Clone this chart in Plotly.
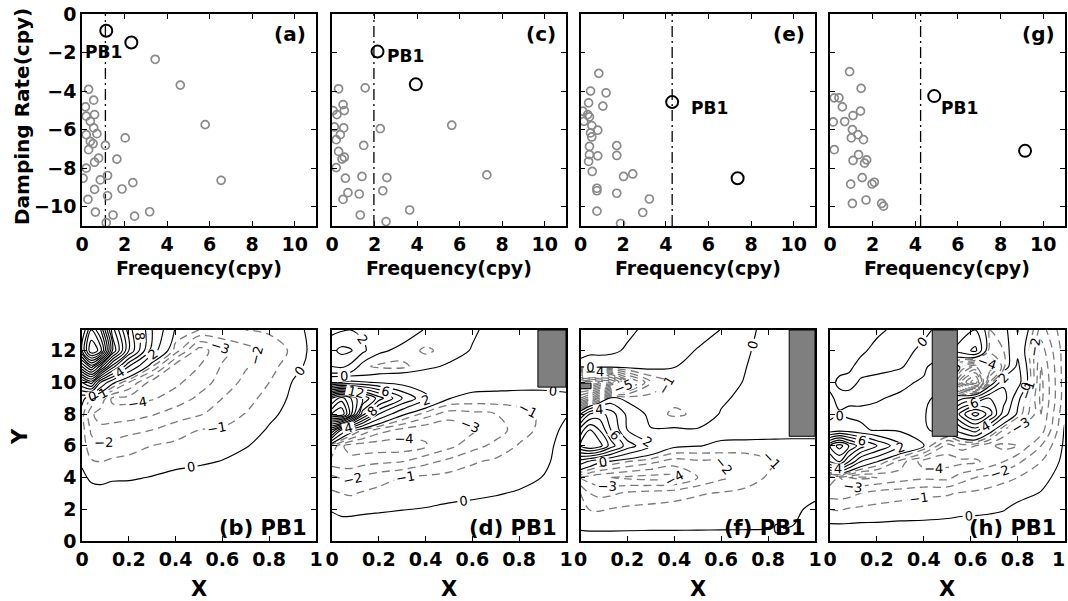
import plotly.graph_objects as go

W, H = 1068, 601

# ---------------- Top row: eigen-spectra (frequency vs damping rate) ----------------
freq_a = [3.44, 4.62, 5.79, 6.54, 2.03, 1.64, 1.10, 0.31, 0.55, 0.16, 0.59, 0.20, 0.39, 0.55, 0.70,
          0.20, 0.39, 0.52, 0.31, 0.78, 0.59, 0.20, 0.05, 0.86, 1.20, 0.59, 0.28, 1.20, 1.88, 2.39,
          0.63, 1.46, 1.14, 2.47, 3.18]
damp_a = [-2.35, -3.69, -5.74, -8.63, -6.43, -7.53, -6.82, -3.91, -4.47, -4.82, -5.22, -5.30, -5.57,
          -5.91, -6.21, -6.26, -6.61, -6.73, -7.04, -7.48, -7.69, -8.00, -8.52, -8.61, -8.38, -9.10,
          -9.62, -9.43, -9.08, -8.75, -10.28, -10.43, -10.83, -10.49, -10.26]
pb_freq_a = [1.14, 2.32]
pb_damp_a = [-0.87, -1.48]

freq_c = [0.31, 1.56, 0.52, 0.05, 0.23, 0.58, 5.63, 0.11, 0.55, 2.27, 0.39, 0.20, 1.49, 0.31, 0.58,
          0.47, 0.20, 7.28, 0.63, 1.41, 2.58, 2.39, 0.75, 1.28, 0.52, 3.65, 1.33, 2.54]
damp_c = [-3.88, -3.83, -4.70, -5.01, -5.22, -5.01, -5.77, -5.86, -5.91, -5.95, -6.26, -6.52, -6.82,
          -7.13, -7.43, -7.53, -7.97, -8.35, -8.52, -8.43, -8.49, -9.17, -9.27, -9.34, -9.62, -10.17,
          -10.43, -10.77]
pb_freq_c = [2.14, 3.94]
pb_damp_c = [-1.95, -3.65]

freq_e = [0.86, 0.47, 1.20, 0.38, 1.05, 0.11, 0.34, 0.42, 0.16, 0.53, 0.81, 0.47, 0.53, 0.42, 1.70,
          1.70, 0.81, 0.42, 0.38, 0.55, 2.02, 2.45, 0.77, 0.77, 1.70, 3.23, 0.77, 2.92, 1.88]
damp_e = [-3.08, -4.00, -4.09, -4.61, -4.78, -5.04, -5.22, -5.34, -5.57, -5.79, -6.03, -6.17, -6.38,
          -6.87, -6.83, -7.34, -7.36, -7.30, -7.65, -8.17, -8.43, -8.30, -9.04, -9.17, -9.30, -9.60,
          -10.23, -10.30, -10.87]
pb_freq_e = [4.30, 7.37]
pb_damp_e = [-4.57, -8.52]

freq_g = [0.92, 1.46, 0.20, 0.42, 0.58, 1.43, 1.08, 0.15, 0.69, 1.05, 1.31, 1.00, 1.57, 0.20, 1.34,
          1.08, 1.72, 1.62, 1.51, 0.97, 1.97, 2.08, 1.69, 1.05, 2.42, 2.51]
damp_g = [-2.99, -3.86, -4.35, -4.35, -4.82, -5.04, -5.27, -5.60, -5.58, -6.00, -6.26, -6.43, -6.52,
          -7.04, -7.30, -7.60, -7.57, -7.74, -8.49, -8.83, -8.82, -8.73, -9.65, -9.83, -9.83, -9.97]
pb_freq_g = [4.89, 9.15]
pb_damp_g = [-4.26, -7.10]

vline_freq = [1.10, 1.97, 4.30, 4.25]          # dash-dot reference frequency per panel
pb_label_pos = [(0.99, -1.97), (3.45, -2.2), (6.07, -4.9), (6.06, -4.9)]
top_labels = ["(a)", "(c)", "(e)", "(g)"]

freq_ticks = [0, 2, 4, 6, 8, 10]
damp_ticks = [-10, -8, -6, -4, -2, 0]

# ---------------- Bottom row: spatial structure of mode PB1 ----------------
xs_b = [0, 0.04, 0.08, 0.13, 0.2, 0.3, 0.4, 0.5, 0.6, 0.7, 0.8, 0.9, 1.0]
ys_b = [0, 1, 2, 3, 4, 5, 6, 7, 8, 9, 10, 11, 12, 13.3]
z_b = [
    [0.5] * 13,
    [0.5] * 13,
    [0.5] * 13,
    [0.5] * 13,
    [0.3, -0.25, -0.4, -0.15, -0.12, 0.05, 0.3, 0.5, 0.5, 0.5, 0.5, 0.5, 0.5],
    [-0.2, -0.9, -1.0, -0.8, -0.7, -0.5, -0.3, -0.17, 0.05, 0.3, 0.5, 0.5, 0.5],
    [-0.5, -1.6, -1.9, -1.7, -1.4, -1.0, -0.75, -0.6, -0.43, -0.05, 0.3, 0.5, 0.5],
    [-0.6, -2.2, -2.7, -2.5, -2.3, -2.0, -1.5, -1.0, -0.87, -0.46, 0.1, 0.4, 0.5],
    [-0.6, -2.8, -3.5, -3.6, -3.5, -3.1, -2.5, -2.1, -1.6, -0.95, -0.2, 0.3, 0.5],
    [0.5, -1.0, -2.2, -4.2, -4.3, -4.1, -3.6, -2.8, -2.0, -1.4, -0.6, 0.2, 0.5],
    [8, 11, 4, 0.5, -2.0, -4.5, -4.2, -3.5, -2.6, -1.7, -1.0, 0.05, 0.5],
    [20, 25, 19, 11, 4, -1.0, -4.6, -4.0, -2.9, -2.1, -1.4, -0.4, 0.5],
    [30, 38, 35, 22, 12, 3, -1.5, -4.5, -3.3, -2.4, -1.7, -0.8, 0.5],
    [28, 34, 30, 19, 11, 4, -0.2, -1.0, -1.0, -1.0, -0.8, -0.5, 0.5],
]

xs_d = [0, 0.04, 0.08, 0.13, 0.2, 0.3, 0.4, 0.5, 0.6, 0.7, 0.8, 0.9, 1.0]
ys_d = [0, 1, 2, 3, 4, 5, 6, 7, 8, 9, 10, 10.5, 11, 12, 13.3]
z_d = [
    [0.5] * 13,
    [0.5] * 13,
    [-0.1, -0.4, -0.4, -0.25, -0.15, -0.03, 0.05, 0.2, 0.3, 0.4, 0.5, 0.5, 0.5],
    [-0.8, -1.0, -1.1, -0.9, -0.7, -0.5, -0.4, -0.3, -0.2, -0.07, 0.1, 0.4, 0.5],
    [-1.8, -2.1, -2.2, -1.8, -1.4, -1.0, -0.8, -0.65, -0.6, -0.45, -0.3, 0.02, 0.5],
    [-3.5, -3.6, -3.6, -3.4, -3.2, -3.0, -2.3, -1.7, -1.1, -0.8, -0.55, -0.25, 0.5],
    [-2.0, -3.8, -4.5, -4.6, -4.6, -4.6, -4.1, -3.3, -2.4, -1.7, -0.9, -0.45, 0.5],
    [10, 4, 1.0, -1.0, -2.5, -3.3, -3.7, -3.8, -3.2, -2.5, -1.5, -0.7, 0.3],
    [26, 28, 21, 11, 4, 0.3, -1.5, -2.5, -2.3, -2.0, -1.4, -0.8, -0.1],
    [20, 23, 20, 16, 11, 6, 2.5, 0.05, -0.3, -0.4, -0.5, -0.5, -0.3],
    [1.0, 2.0, 2.5, 2.2, 1.8, 1.2, 0.8, 0.6, 0.5, 0.5, 0.5, 0.5, 0.5],
    [-0.4, -0.6, -0.6, -0.3, 0.1, 0.3, 0.5, 0.5, 0.5, 0.5, 0.5, 0.5, 0.5],
    [2.0, 2.4, 1.5, -0.8, -1.2, -1.3, -0.3, 0.2, 0.5, 0.5, 0.5, 0.5, 0.5],
    [3.5, 4.5, 4.2, 2.5, 0.3, -0.4, -1.2, -0.6, 0.1, 0.5, 0.5, 0.5, 0.5],
    [1.5, 1.8, 2.0, 1.6, 1.2, 0.8, -0.1, -0.4, -0.2, 0.5, 0.5, 0.5, 0.5],
]

xs_f = [0, 0.04, 0.08, 0.13, 0.2, 0.3, 0.4, 0.5, 0.6, 0.7, 0.8, 0.9, 1.0]
ys_f = [0, 0.5, 1, 2, 3, 4, 5, 6, 7, 8, 9, 10, 11, 12, 13.3]
z_f = [
    [0.5] * 13,
    [0.1] * 11 + [0.3, 0.5],
    [-0.2, -0.3, -0.3, -0.3, -0.25, -0.2, -0.2, -0.17, -0.15, -0.13, -0.1, -0.05, 0.5],
    [-0.5, -1.05, -1.1, -0.95, -0.8, -0.7, -0.6, -0.55, -0.5, -0.4, -0.3, -0.2, 0.2],
    [-1.0, -2.0, -2.3, -2.2, -1.8, -1.6, -1.4, -1.1, -0.9, -0.75, -0.6, -0.4, -0.2],
    [-3.0, -3.5, -3.8, -4.0, -4.2, -4.4, -4.3, -3.0, -2.2, -1.5, -0.9, -0.6, -0.4],
    [3, 1.5, 0.3, -0.3, -1.0, -1.7, -2.5, -2.2, -2.0, -1.8, -1.2, -0.6, -0.3],
    [12, 14, 13, 9, 5, 2.2, 0.3, 0.05, -0.2, -0.3, -0.35, -0.4, -0.4],
    [9, 12, 10, 6, 2, 0.1, 0.2, 0.1, 0.4, 0.5, 0.5, 0.5, 0.5],
    [2, 6, 7, 5, 1.5, -0.5, -1.2, -0.8, 0.1, 0.5, 0.5, 0.5, 0.5],
    [-8, -6, -3, 0.5, -0.5, -0.6, -0.7, -0.5, -0.2, 0.3, 0.5, 0.5, 0.5],
    [-13, -14, -13, -12, -6, -2, -0.8, -0.6, -0.4, 0.05, 0.5, 0.5, 0.5],
    [0.3, 0.8, 0.6, 0.5, 0.5, 0.4, 0.05, -0.4, -0.5, -0.05, 0.5, 0.5, 0.5],
    [-0.3, -0.3, -0.25, -0.15, 0.1, 0.4, 0.3, -0.05, -0.5, -0.2, 0.5, 0.5, 0.5],
    [-0.4, -0.4, -0.4, -0.3, -0.15, 0.2, 0.4, 0.3, -0.02, -0.3, 0.3, 0.5, 0.5],
]

xs_h = [0, 0.04, 0.08, 0.13, 0.2, 0.3, 0.4, 0.5, 0.56, 0.62, 0.68, 0.74, 0.8, 0.9, 1.0]
ys_h = [0, 1, 2, 3, 4, 5, 6, 7, 8, 9, 10, 11, 12, 13.3]
z_h = [
    [0.5] * 15,
    [0.1, 0.1, 0.1, 0.15, 0.15, 0.2, 0.2, 0.25, 0.3, 0.3, 0.35, 0.4, 0.45, 0.5, 0.5],
    [-1.0, -1.1, -0.9, -0.8, -0.7, -0.55, -0.45, -0.35, -0.25, -0.2, -0.15, -0.05, 0.25, 0.45, 0.5],
    [-2.5, -2.5, -2.4, -2.0, -1.6, -1.4, -1.2, -1.1, -0.9, -0.8, -0.6, -0.45, -0.3, 0.05, 0.5],
    [-3.5, -3.0, -4.0, -4.2, -4.0, -3.5, -3.2, -3.3, -2.5, -2.0, -1.7, -1.3, -1.0, -0.3, 0.4],
    [8, 10, 6, 2, 0.05, -2.5, -4.5, -4.4, -4.3, -4.2, -3.6, -3.0, -2.2, -1.0, 0.3],
    [12, 15, 12, 9, 6, 2.5, 0.05, -3.5, -2.5, -3.0, -3.8, -4.3, -4.0, -2.0, 0.2],
    [0.5, 1.0, 0.8, 0.3, -0.2, -0.3, -0.3, 1.0, 3, 5, 1, -2, -3.5, -3.5, 0.1],
    [-0.3, -0.1, -0.3, -0.3, -0.3, -0.3, -0.3, 3, 9, 13, 9, 3, -0.3, -4.0, -0.2],
    [-0.2, 0.3, 0.3, 0.3, 0.1, -0.2, -0.3, 0.6, 1.5, 3, 6, 5, 0.5, -4.3, -0.5],
    [0.3, -0.2, -0.3, 0.1, 0.3, 0.3, -0.2, -2, -8, -11, -2, 3.5, 3, -4.3, -0.5],
    [0.3, 0.3, 0.2, -0.3, -0.3, -0.05, 0.3, -1.5, -4, -6, -5, -1.5, 2.5, -4.0, -0.5],
    [0.3, 0.3, 0.3, 0.2, -0.3, -0.3, 0.2, 1, 3, 4.5, -1.5, -1.0, 1.5, -3.5, -0.5],
    [0.3, 0.3, 0.3, 0.3, 0.2, -0.3, -0.2, 0.4, 1, 2, -1.0, -0.8, 2.1, -2.5, -0.3],
]

# land / ridge masks (x0, x1, y0, y1) per bottom panel
masks = [
    [],
    [(0.88, 1.0, 9.7, 13.3)],
    [(0.89, 1.0, 6.6, 13.3), (0.0, 0.045, 9.6, 9.95)],
    [(0.436, 0.543, 6.6, 13.3)],
]
bottom_labels = ["(b) PB1", "(d) PB1", "(f) PB1", "(h) PB1"]
x_ticks = [0, 0.2, 0.4, 0.6, 0.8, 1.0]
x_ticktext = ["0", "0.2", "0.4", "0.6", "0.8", "1"]
y_ticks = [0, 2, 4, 6, 8, 10, 12]

# ---------------- figure ----------------
FONT = "DejaVu Sans"
fig = go.Figure()

top_sets = [
    (freq_a, damp_a, pb_freq_a, pb_damp_a),
    (freq_c, damp_c, pb_freq_c, pb_damp_c),
    (freq_e, damp_e, pb_freq_e, pb_damp_e),
    (freq_g, damp_g, pb_freq_g, pb_damp_g),
]

def ax(i, kind):
    return kind if i == 1 else f"{kind}{i}"

for k, (fx, dy, pfx, pdy) in enumerate(top_sets):
    i = k + 1
    xa, ya = ax(i, "x"), ax(i, "y")
    fig.add_trace(go.Scatter(x=[vline_freq[k], vline_freq[k]], y=[-11, 0], mode="lines",
                             line=dict(color="black", width=1.3, dash="11px,4px,2px,4px"),
                             xaxis=xa, yaxis=ya, showlegend=False, hoverinfo="skip"))
    fig.add_trace(go.Scatter(x=fx, y=dy, mode="markers",
                             marker=dict(symbol="circle-open", size=8, color="#8a8a8a",
                                         line=dict(width=1.7)),
                             xaxis=xa, yaxis=ya, showlegend=False))
    fig.add_trace(go.Scatter(x=pfx, y=pdy, mode="markers",
                             marker=dict(symbol="circle-open", size=12, color="black",
                                         line=dict(width=2)),
                             xaxis=xa, yaxis=ya, showlegend=False))

bottom_sets = [(xs_b, ys_b, z_b), (xs_d, ys_d, z_d), (xs_f, ys_f, z_f), (xs_h, ys_h, z_h)]
for k, (xs, ys, zz) in enumerate(bottom_sets):
    i = k + 5
    xa, ya = ax(i, "x"), ax(i, "y")
    fig.add_trace(go.Contour(x=xs, y=ys, z=zz, showscale=False, hoverinfo="skip",
                             contours=dict(coloring="lines", start=-15, end=-1, size=1,
                                           showlabels=True,
                                           labelfont=dict(family=FONT, size=13, color="black")),
                             colorscale=[[0, "#7a7a7a"], [1, "#7a7a7a"]],
                             line=dict(width=1.3, dash="8px,5px", smoothing=1.0),
                             xaxis=xa, yaxis=ya))
    fig.add_trace(go.Contour(x=xs, y=ys, z=zz, showscale=False, hoverinfo="skip",
                             contours=dict(coloring="lines", start=0, end=40, size=2,
                                           showlabels=True,
                                           labelfont=dict(family=FONT, size=13, color="black")),
                             colorscale=[[0, "black"], [1, "black"]],
                             line=dict(width=1.15, smoothing=1.0),
                             xaxis=xa, yaxis=ya))

cols = [(82, 316), (332, 566), (580.5, 815), (830, 1064.5)]
top_px = (14, 226)
bot_px = (330, 541)

tickfont = dict(family=FONT, size=19, color="black", weight="bold")
common = dict(showline=True, linecolor="black", linewidth=1.5, mirror="ticks",
              ticks="inside", ticklen=5, tickwidth=1.2, tickcolor="black",
              showgrid=False, zeroline=False, tickfont=tickfont, fixedrange=True,
              automargin=False, ticklabeloverflow="allow")

layout = dict(width=W, height=H, autosize=False, margin=dict(l=0, r=0, t=0, b=0, pad=0),
              paper_bgcolor="white", plot_bgcolor="white", showlegend=False,
              template="none")

for k in range(4):
    l, r = cols[k]
    xd = [l / W, r / W]
    i = k + 1
    layout["xaxis" if i == 1 else f"xaxis{i}"] = dict(
        domain=xd, range=[0, 11], tickvals=freq_ticks, anchor=ax(i, "y"), **common)
    layout["yaxis" if i == 1 else f"yaxis{i}"] = dict(
        domain=[1 - top_px[1] / H, 1 - top_px[0] / H], range=[-11, 0], tickvals=damp_ticks,
        anchor=ax(i, "x"), showticklabels=(k == 0), **common)
    j = k + 5
    # the last panel's "1" sits at the page edge; it is drawn as an annotation below
    tt = x_ticktext if k < 3 else x_ticktext[:-1] + [""]
    layout[f"xaxis{j}"] = dict(domain=xd, range=[0, 1], tickvals=x_ticks, ticktext=tt,
                               anchor=f"y{j}", **common)
    layout[f"yaxis{j}"] = dict(domain=[1 - bot_px[1] / H, 1 - bot_px[0] / H], range=[0, 13.3],
                               tickvals=y_ticks, anchor=f"x{j}", showticklabels=(k == 0), **common)

fig.update_layout(**layout)

shapes = []
for k, mlist in enumerate(masks):
    j = k + 5
    for (x0, x1, y0, y1) in mlist:
        shapes.append(dict(type="rect", xref=f"x{j}", yref=f"y{j}", x0=x0, x1=x1, y0=y0, y1=y1,
                           fillcolor="#7f7f7f", line=dict(color="black", width=1), layer="above"))
fig.update_layout(shapes=shapes)

ann = []
bold = lambda s: dict(family=FONT, size=s, color="black", weight="bold")

def paper_text(text, px, py, size, angle=0, xanchor="center"):
    return dict(text=text, x=px / W, y=1 - py / H, xref="paper", yref="paper",
                xanchor=xanchor, yanchor="middle", textangle=angle, showarrow=False,
                font=bold(size))

ann.append(paper_text("Damping Rate(cpy)", 22, 117, 20, angle=-90))
ann.append(paper_text("Y", 20, 437, 21, angle=-90))
for k in range(4):
    l, r = cols[k]
    cx = (l + r) / 2
    ann.append(paper_text("Frequency(cpy)", cx, 268, 19))
    ann.append(paper_text("X", cx, 589, 21))
    ann.append(paper_text(top_labels[k], r - 8, 34, 20, xanchor="right"))
    ann.append(paper_text(bottom_labels[k], r - 7, 528, 21, xanchor="right"))
    px, py = pb_label_pos[k]
    i = k + 1
    ann.append(dict(text="PB1", x=px, y=py, xref=ax(i, "x"), yref=ax(i, "y"),
                    xanchor="center", yanchor="middle", showarrow=False, font=bold(17)))
ann.append(paper_text(x_ticktext[-1], 1067, 559, 19, xanchor="right"))
fig.update_layout(annotations=ann)

fig.write_html("out.html", config={"displayModeBar": False},
               post_script="document.body.style.margin='0';document.body.style.overflow='hidden';")
